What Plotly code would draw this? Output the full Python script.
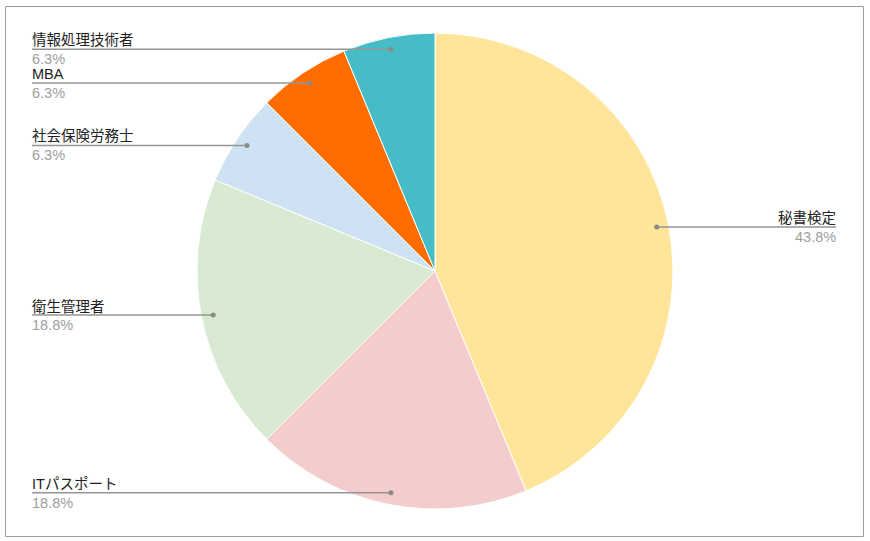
import math
from decimal import Decimal, ROUND_HALF_UP
import plotly.graph_objects as go

labels = ["秘書検定", "ITパスポート", "衛生管理者", "社会保険労務士", "MBA", "情報処理技術者"]
values = [7, 3, 3, 1, 1, 1]
colors = ["#FFE599", "#F4CCCC", "#D9EAD3", "#CFE2F3", "#FF6D01", "#46BDC6"]

W, H = 870, 541
CX, CY, R = 435, 271, 238
LEFT_X, RIGHT_X = 32, 836
FONT = "Arial, Liberation Sans, Noto Sans CJK JP, sans-serif"

def px(x):
    return x / W

def py(y):
    return 1 - y / H

fig = go.Figure(go.Pie(
    labels=labels, values=values, sort=False, direction="clockwise", rotation=0,
    marker=dict(colors=colors, line=dict(color="white", width=1)),
    textinfo="none", hoverinfo="label+percent", showlegend=False,
    domain=dict(x=[px(CX - R), px(CX + R)], y=[py(CY + R), py(CY - R)]),
))

shapes = [dict(type="rect", xref="paper", yref="paper", x0=px(5.5), x1=px(863.5), y0=py(536.5),
               y1=py(6.5), line=dict(color="#9e9e9e", width=1), fillcolor="rgba(0,0,0,0)")]
annotations = []
total = sum(values)
cum = 0
for lab, v in zip(labels, values):
    mid = (cum + v / 2) / total
    cum += v
    th = 2 * math.pi * mid
    ax = CX + 0.95 * R * math.sin(th)
    ay = CY - 0.95 * R * math.cos(th)
    pct = str(Decimal(100 * v / total).quantize(Decimal("0.1"), rounding=ROUND_HALF_UP)) + "%"
    left = math.sin(th) < 0
    if left:
        x0, x1 = LEFT_X, ax
        tx, anchor = LEFT_X - 2, "left"
    else:
        x0, x1 = ax, RIGHT_X
        tx, anchor = RIGHT_X + 2, "right"
    shapes.append(dict(type="line", xref="paper", yref="paper", x0=px(x0), x1=px(x1), y0=py(ay), y1=py(ay),
                       line=dict(color="#959595", width=1.5)))
    shapes.append(dict(type="circle", xref="paper", yref="paper", x0=px(ax - 2.5), x1=px(ax + 2.5),
                       y0=py(ay + 2.5), y1=py(ay - 2.5), line=dict(width=0), fillcolor="#8a8a8a"))
    annotations.append(dict(xref="paper", yref="paper", x=px(tx), y=py(ay - 9), text=lab, showarrow=False,
                            xanchor=anchor, yanchor="middle", font=dict(family=FONT, size=14.5, color="#222222")))
    annotations.append(dict(xref="paper", yref="paper", x=px(tx), y=py(ay + 10), text=pct, showarrow=False,
                            xanchor=anchor, yanchor="middle", font=dict(family=FONT, size=14.5, color="#9e9e9e")))

fig.update_layout(width=W, height=H, margin=dict(l=0, r=0, t=0, b=0), paper_bgcolor="white",
                  shapes=shapes, annotations=annotations)
fig.write_html("out.html", config={"displayModeBar": False},
               post_script="document.body.style.margin='0';document.body.style.overflow='hidden';")
